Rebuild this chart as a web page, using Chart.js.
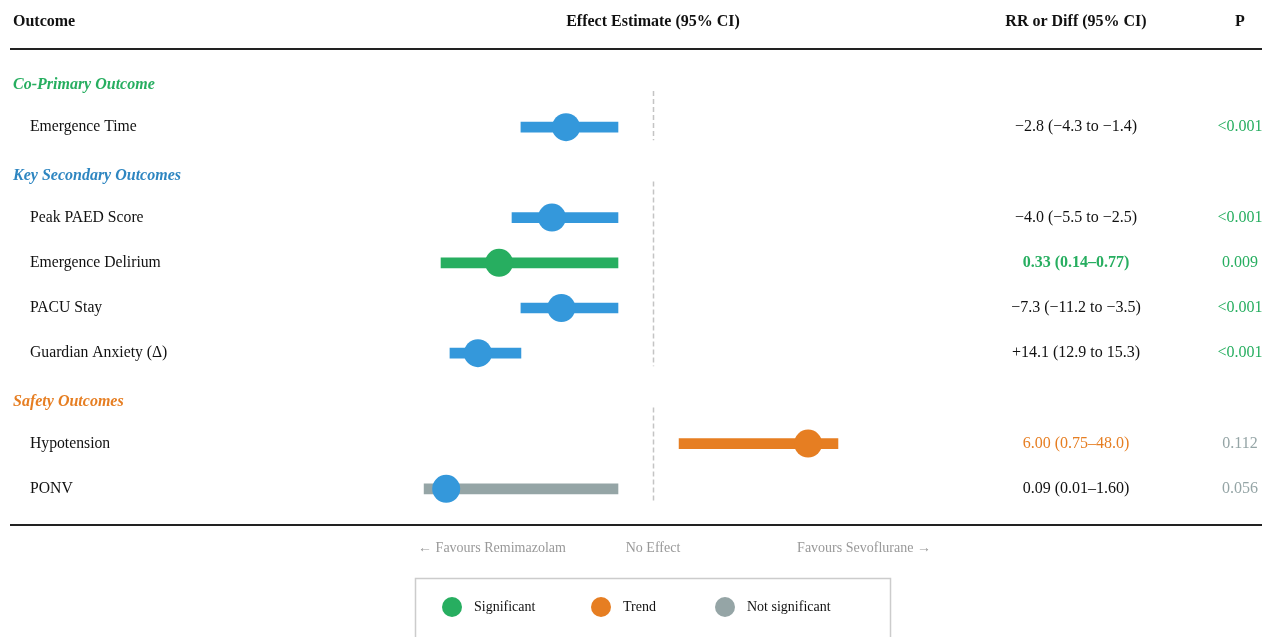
<!DOCTYPE html>
<html>
<head>
<meta charset="utf-8">
<title>Forest plot</title>
<script src="https://cdn.jsdelivr.net/npm/chart.js@4/dist/chart.umd.min.js"></script>
<style>
    html, body { margin: 0; padding: 0; background: #ffffff; }
    canvas { display: block; }
</style>
</head>
<body>
<canvas id="forest" width="1262" height="637"></canvas>
<script>
// rows of the table, section headers included
const rowLabels = ['Co-Primary Outcome', 'Emergence Time', 'Key Secondary Outcomes', 'Peak PAED Score',
    'Emergence Delirium', 'PACU Stay', 'Guardian Anxiety (\u0394)', 'Safety Outcomes', 'Hypotension', 'PONV'];
const rowKind = ['section', 'outcome', 'section', 'outcome', 'outcome', 'outcome', 'outcome', 'section', 'outcome', 'outcome'];

// plotted effect on a standardized scale (0 = no effect, -1..1 = track width)
const estimate = [null, -0.37, null, -0.43, -0.655, -0.39, -0.745, null, 0.66, -0.88];
const ciLow = [null, -0.562, null, -0.60, -0.902, -0.562, -0.864, null, 0.111, -0.974];
const ciHigh = [null, -0.149, null, -0.149, -0.149, -0.149, -0.562, null, 0.787, -0.149];

// table columns
const effectText = ['', '\u22122.8 (\u22124.3 to \u22121.4)', '', '\u22124.0 (\u22125.5 to \u22122.5)', '0.33 (0.14\u20130.77)',
    '\u22127.3 (\u221211.2 to \u22123.5)', '+14.1 (12.9 to 15.3)', '', '6.00 (0.75\u201348.0)', '0.09 (0.01\u20131.60)'];
const pText = ['', '<0.001', '', '<0.001', '0.009', '<0.001', '<0.001', '', '0.112', '0.056'];
const status = ['', 'sig', '', 'sig', 'sig', 'sig', 'sig', '', 'trend', 'ns'];

const legendLabels = ['Significant', 'Trend', 'Not significant'];

const BLUE = '#3498db';
const GREEN = '#27ae60';
const ORANGE = '#e67e22';
const GREY = '#95a5a6';
const sectionColors = { 'Co-Primary Outcome': GREEN, 'Key Secondary Outcomes': '#2e86c1', 'Safety Outcomes': ORANGE };

const pointColors = rowLabels.map(function (name, i) {
    if (name == 'Emergence Delirium') return GREEN;
    if (status[i] == 'trend') return ORANGE;
    return BLUE;
});
const barColors = rowLabels.map(function (name, i) {
    if (name == 'Emergence Delirium') return GREEN;
    if (status[i] == 'trend') return ORANGE;
    if (status[i] == 'ns') return GREY;
    return BLUE;
});

const SERIF = '"Liberation Serif", "Times New Roman", serif';

// draws the table text, rules, null lines and the legend box around the plot
const tablePlugin = {
    id: 'forestTable',
    beforeDatasetsDraw: function (chart) {
        const c = chart.ctx;
        const xs = chart.scales.x;
        const ys = chart.scales.y;
        const x0 = Math.round(xs.getPixelForValue(0)) + 0.5;
        c.save();
        c.strokeStyle = '#c4c4c4';
        c.lineWidth = 1.5;
        c.setLineDash([5, 3]);
        // one dashed null line per section block
        let start = null;
        for (let i = 0; i <= rowLabels.length; i++) {
            if (i == rowLabels.length || rowKind[i] == 'section') {
                if (start !== null) {
                    const top = ys.getPixelForValue(start) + 9;
                    const bottom = ys.getPixelForValue(i - 1) + 13;
                    c.beginPath();
                    c.moveTo(x0, top);
                    c.lineTo(x0, bottom);
                    c.stroke();
                }
                start = i;
            }
        }
        c.restore();
    },
    afterDraw: function (chart) {
        const c = chart.ctx;
        const ys = chart.scales.y;
        const xs = chart.scales.x;
        const xNull = xs.getPixelForValue(0);
        const W = chart.width;
        c.save();
        c.textBaseline = 'middle';

        // header
        c.fillStyle = '#111';
        c.font = 'bold 16px ' + SERIF;
        c.textAlign = 'left';
        c.fillText('Outcome', 13, 22);
        c.textAlign = 'center';
        c.fillText('Effect Estimate (95% CI)', xNull, 22);
        c.fillText('RR or Diff (95% CI)', 1076, 22);
        c.fillText('P', 1240, 22);

        c.fillStyle = '#222';
        c.fillRect(10, 48, W - 10, 2);
        c.fillRect(10, 524, W - 10, 2);

        for (let i = 0; i < rowLabels.length; i++) {
            const y = ys.getPixelForValue(i);
            if (rowKind[i] == 'section') {
                c.font = 'italic bold 16px ' + SERIF;
                c.fillStyle = sectionColors[rowLabels[i]];
                c.textAlign = 'left';
                c.fillText(rowLabels[i], 13, y + 3);
                continue;
            }
            c.font = '15.7px ' + SERIF;
            c.fillStyle = '#111';
            c.textAlign = 'left';
            c.fillText(rowLabels[i], 30, y);

            c.textAlign = 'center';
            c.font = '16px ' + SERIF;
            if (rowLabels[i] == 'Emergence Delirium') {
                c.font = 'bold 16px ' + SERIF;
                c.fillStyle = GREEN;
            } else if (status[i] == 'trend') {
                c.fillStyle = ORANGE;
            } else {
                c.fillStyle = '#111';
            }
            c.fillText(effectText[i], 1076, y);

            c.font = '16px ' + SERIF;
            c.fillStyle = status[i] == 'sig' ? GREEN : GREY;
            c.fillText(pText[i], 1240, y);
        }

        // direction labels under the plot
        c.font = '14px ' + SERIF;
        c.fillStyle = '#999';
        c.textAlign = 'center';
        c.fillText('\u2190 Favours Remimazolam', xNull - 161, 548);
        c.fillText('No Effect', xNull, 548);
        c.fillText('Favours Sevoflurane \u2192', xNull + 211, 548);

        // legend box
        c.strokeStyle = '#cccccc';
        c.lineWidth = 1.5;
        c.strokeRect(415.5, 578.5, 475, 80);
        const legendColors = [GREEN, ORANGE, GREY];
        const legendX = [452, 601, 725];
        c.font = '14px ' + SERIF;
        c.textAlign = 'left';
        for (let k = 0; k < legendLabels.length; k++) {
            c.fillStyle = legendColors[k];
            c.beginPath();
            c.arc(legendX[k], 607, 10, 0, Math.PI * 2);
            c.fill();
            c.fillStyle = '#111';
            c.fillText(legendLabels[k], legendX[k] + 22, 607);
        }
        c.restore();
    }
};

const ctx = document.getElementById('forest').getContext('2d');
const forestChart = new Chart(ctx, {
    type: 'bar',
    data: {
        labels: rowLabels,
        datasets: [
            {
                type: 'line',
                label: 'Estimate',
                data: estimate,
                indexAxis: 'y',
                showLine: false,
                pointRadius: 14,
                pointHoverRadius: 14,
                pointBackgroundColor: pointColors,
                pointBorderWidth: 0,
                clip: false,
                order: 0,
            },
            {
                type: 'bar',
                label: '95% CI',
                data: ciLow.map(function (lo, i) {
                    return lo === null ? null : [lo, ciHigh[i]];
                }),
                indexAxis: 'y',
                backgroundColor: barColors,
                barThickness: 10,
                borderWidth: 0,
                borderSkipped: false,
                order: 1,
            }
        ]
    },
    options: {
        indexAxis: 'y',
        responsive: false,
        animation: false,
        layout: {
            padding: { left: 418, right: 374, top: 59.4, bottom: 125.6 }
        },
        scales: {
            x: { type: 'linear', min: -1, max: 1, display: false },
            y: { display: false, offset: true, grid: { display: false } }
        },
        plugins: {
            legend: { display: false },
            tooltip: { enabled: false }
        }
    },
    plugins: [tablePlugin]
});
</script>
</body>
</html>
